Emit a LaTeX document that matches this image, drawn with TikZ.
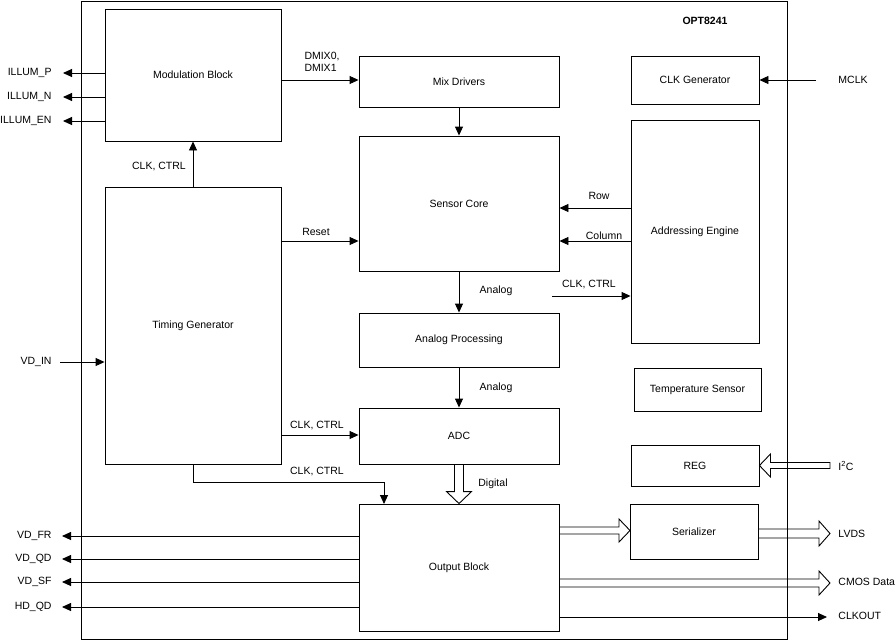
\documentclass[tikz,border=0pt]{standalone}
\usepackage{fontspec}
\setmainfont{Liberation Sans}
\usetikzlibrary{arrows.meta,calc}
\begin{document}
\begin{tikzpicture}[x=1pt,y=-1pt, font=\fontsize{10.5}{12.5}\selectfont, line width=0.9pt,
  blk/.style={draw, rectangle, inner sep=0pt, align=center},
  arr/.style={-{Triangle[length=9pt,width=8pt]}},
  hol/.style={line join=miter},
  lbl/.style={inner sep=0pt}]
\useasboundingbox (0,0) rectangle (896,640);
\draw (81,1) rectangle (787,639);
\node[lbl, font=\fontsize{10.5}{12.5}\selectfont\bfseries] (title) at (705,21) {OPT8241};

% blocks
\node[blk, minimum width=176pt, minimum height=132pt] (mod) at (193,75) {Modulation Block};
\node[blk, minimum width=176pt, minimum height=277pt] (tim) at (193,325.5) {Timing Generator};
\node[blk, minimum width=200pt, minimum height=51pt] (mix) at (459,81.5) {Mix Drivers};
\node[blk, minimum width=200pt, minimum height=135pt] (sc) at (459,203.5) {Sensor Core};
\node[blk, minimum width=200pt, minimum height=54pt] (ap) at (459,340) {Analog Processing};
\node[blk, minimum width=200pt, minimum height=56pt] (adc) at (459,436) {ADC};
\node[blk, minimum width=200pt, minimum height=127pt] (out) at (459,567.5) {Output Block};
\node[blk, minimum width=128pt, minimum height=48pt] (clk) at (695,80) {CLK Generator};
\node[blk, minimum width=128pt, minimum height=223pt] (addr) at (695,231.5) {Addressing Engine};
\node[blk, minimum width=127pt, minimum height=43pt] (temp) at (697.5,389.5) {Temperature Sensor};
\node[blk, minimum width=128pt, minimum height=41pt] (reg) at (695,465.5) {REG};
\node[blk, minimum width=128pt, minimum height=55pt] (ser) at (694,531.5) {Serializer};

% illumination outputs
\coordinate (ilp) at (63,73);
\coordinate (iln) at (63,97);
\coordinate (ile) at (63,121);
\draw[arr] (mod.west |- ilp) -- (ilp);
\draw[arr] (mod.west |- iln) -- (iln);
\draw[arr] (mod.west |- ile) -- (ile);
\node[lbl, anchor=east] (lilp) at (52,73) {ILLUM\_P};
\node[lbl, anchor=east] (liln) at (52,97) {ILLUM\_N};
\node[lbl, anchor=east] (lile) at (52,121) {ILLUM\_EN};

% timing -> modulation
\draw[arr] (tim.north) -- (mod.south);
\node[lbl] (lcc0) at (159,167) {CLK, CTRL};

% modulation -> mix drivers
\coordinate (ydmix) at (300,80);
\draw[arr] (mod.east |- ydmix) -- (mix.west |- ydmix);
\node[lbl, align=left] (ldmix) at (322,62) {DMIX0,\\DMIX1};

\draw[arr] (mix.south) -- (sc.north);

% reset
\coordinate (yrst) at (300,241);
\draw[arr] (tim.east |- yrst) -- (sc.west |- yrst);
\node[lbl] (lrst) at (316,232) {Reset};

% row / column
\coordinate (yrow) at (600,208);
\coordinate (ycol) at (600,241);
\draw[arr] (addr.west |- yrow) -- (sc.east |- yrow);
\draw[arr] (addr.west |- ycol) -- (sc.east |- ycol);
\node[lbl] (lrow) at (599,196) {Row};
\node[lbl] (lcol) at (604,236) {Column};

% clk ctrl to addressing
\coordinate (cc1) at (552,296);
\draw[arr] (cc1) -- (addr.west |- cc1);
\node[lbl] (lcc1) at (589,284) {CLK, CTRL};

% analog chain
\draw[arr] (sc.south) -- (ap.north);
\node[lbl] (lan1) at (496,291) {Analog};
\draw[arr] (ap.south) -- (adc.north);
\node[lbl] (lan2) at (496,388) {Analog};

% timing -> adc
\coordinate (yadc) at (300,435);
\draw[arr] (tim.east |- yadc) -- (adc.west |- yadc);
\node[lbl] (lcc2) at (317,425) {CLK, CTRL};

% timing -> output block
\coordinate (outin) at (384,504);
\draw[arr] (tim.south) -- ++(0,18) -| (outin);
\node[lbl] (lcc3) at (317,471) {CLK, CTRL};

% digital hollow arrow
\draw[hol] ($(adc.south)+(-4.5,0)$) -- ($(out.north)+(-4.5,-12)$) -- ($(out.north)+(-12.5,-12)$)
  -- (out.north) -- ($(out.north)+(12.5,-12)$) -- ($(out.north)+(4.5,-12)$) -- ($(adc.south)+(4.5,0)$);
\node[lbl] (ldig) at (493,484) {Digital};

% VD_IN
\coordinate (vdin) at (60,362);
\draw[arr] (vdin) -- (tim.west |- vdin);
\node[lbl, anchor=east] (lvdin) at (52,362) {VD\_IN};

% MCLK
\coordinate (mclk) at (816,80);
\draw[arr] (mclk) -- (clk.east);
\node[lbl, anchor=west] (lmclk) at (838,80) {MCLK};

% I2C hollow arrow
\coordinate (i2c) at (830,465.5);
\draw[hol] ($(i2c)+(0,-3)$) -- ($(reg.east)+(11,-3)$) -- ($(reg.east)+(11,-11.5)$) -- (reg.east)
  -- ($(reg.east)+(11,11.5)$) -- ($(reg.east)+(11,3)$) -- ($(i2c)+(0,3)$) -- cycle;
\node[lbl, anchor=west] (li2c) at (838,465.5) {I\textsuperscript{2}C};

% output -> serializer hollow
\coordinate (serin) at (630,530.5);
\draw[hol] ($(out.east |- serin)+(0,-3.5)$) -- ($(serin)+(-11,-3.5)$) -- ($(serin)+(-11,-11.5)$) -- (serin)
  -- ($(serin)+(-11,11.5)$) -- ($(serin)+(-11,3.5)$) -- ($(out.east |- serin)+(0,3.5)$);

% LVDS hollow
\coordinate (lvds) at (830,533.5);
\draw[hol] ($(ser.east |- lvds)+(0,-4.5)$) -- ($(lvds)+(-11,-4.5)$) -- ($(lvds)+(-11,-12.5)$) -- (lvds)
  -- ($(lvds)+(-11,12.5)$) -- ($(lvds)+(-11,4.5)$) -- ($(ser.east |- lvds)+(0,4.5)$);
\node[lbl, anchor=west] (llvds) at (838,534) {LVDS};

% CMOS hollow
\coordinate (cmos) at (830,583);
\draw[hol] ($(out.east |- cmos)+(0,-4)$) -- ($(cmos)+(-11,-4)$) -- ($(cmos)+(-11,-12)$) -- (cmos)
  -- ($(cmos)+(-11,12)$) -- ($(cmos)+(-11,4)$) -- ($(out.east |- cmos)+(0,4)$);
\node[lbl, anchor=west] (lcmos) at (838,582) {CMOS Data};

% CLKOUT
\coordinate (clkout) at (827,617);
\draw[arr] (out.east |- clkout) -- (clkout);
\node[lbl, anchor=west] (lclkout) at (838,616) {CLKOUT};

% output block left outputs
\coordinate (vdfr) at (62,536);
\coordinate (vdqd) at (62,559);
\coordinate (vdsf) at (62,582);
\coordinate (hdqd) at (62,607);
\draw[arr] (out.west |- vdfr) -- (vdfr);
\draw[arr] (out.west |- vdqd) -- (vdqd);
\draw[arr] (out.west |- vdsf) -- (vdsf);
\draw[arr] (out.west |- hdqd) -- (hdqd);
\node[lbl, anchor=east] (lvdfr) at (52,536) {VD\_FR};
\node[lbl, anchor=east] (lvdqd) at (52,559) {VD\_QD};
\node[lbl, anchor=east] (lvdsf) at (52,582) {VD\_SF};
\node[lbl, anchor=east] (lhdqd) at (52,607) {HD\_QD};
\end{tikzpicture}
\end{document}
